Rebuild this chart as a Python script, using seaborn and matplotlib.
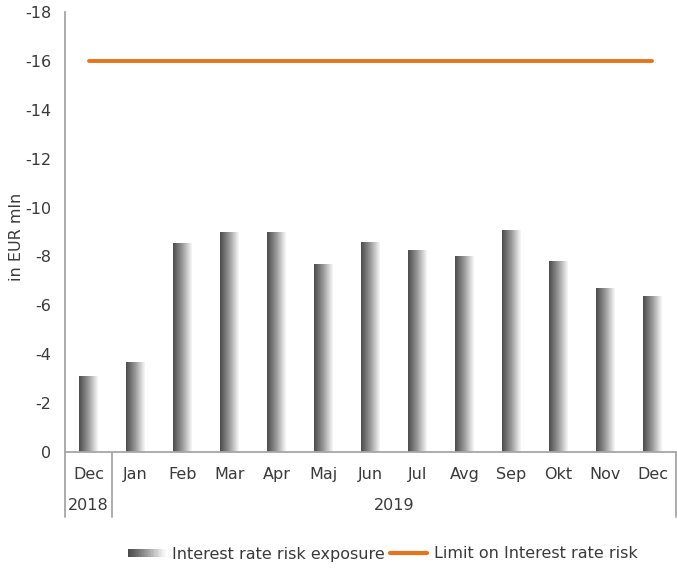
import numpy as np
import pandas as pd
import matplotlib
matplotlib.use('Agg')
import matplotlib.pyplot as plt
import matplotlib.transforms as mtransforms
import seaborn as sns
from matplotlib.legend_handler import HandlerBase
from matplotlib.patches import Rectangle, Patch
from matplotlib.lines import Line2D
from matplotlib.colors import LinearSegmentedColormap

# ---- data ----
months = ['Dec', 'Jan', 'Feb', 'Mar', 'Apr', 'Maj', 'Jun', 'Jul', 'Avg', 'Sep', 'Okt', 'Nov', 'Dec']
years = ['2018', '2019']
year_spans = [(0, 0), (1, 12)]
exposure = [-3.1, -3.7, -8.55, -9.0, -9.0, -7.7, -8.6, -8.27, -8.0, -9.08, -7.8, -6.7, -6.4]
limit = [-16] * 13
y_ticks = list(range(-18, 1, 2))

sns.set_theme(style='white')
plt.rcParams['font.family'] = ['DejaVu Sans']

GRAY_TXT = '#3a3a3a'
ORANGE = '#E8731A'
cmap = LinearSegmentedColormap.from_list('g', ['#4c4c4c', '#9a9a9a', '#f8f8f8'])

keys = [f'{m}-{i}' for i, m in enumerate(months)]
df = pd.DataFrame({'key': keys, 'val': exposure})

fig = plt.figure(figsize=(6.77, 5.69), dpi=100)
ax = fig.add_axes([65 / 677, 1 - 452 / 569, (676 - 65) / 677, (452 - 12) / 569])

sns.barplot(data=df, x='key', y='val', order=keys, width=0.4, color='#808080', ax=ax, zorder=2)
sns.lineplot(x=np.arange(len(months)), y=limit, color=ORANGE, lw=2.8, ax=ax, zorder=3,
             solid_capstyle='round')

grad = np.linspace(0, 1, 64).reshape(1, -1)
for p in list(ax.patches):
    x0, w, y0, h = p.get_x(), p.get_width(), p.get_y(), p.get_height()
    p.set_facecolor('none')
    p.set_edgecolor('none')
    im = ax.imshow(grad, extent=[x0, x0 + w, y0, y0 + h], aspect='auto', cmap=cmap,
                   interpolation='bicubic', zorder=2)
    im.set_clip_path(p)

ax.set_xlim(-0.5, len(months) - 0.5)
ax.set_ylim(0, -18)
ax.set_yticks(y_ticks)
ax.set_yticklabels([str(t) for t in y_ticks])
ax.set_xticks(range(len(months)))
ax.set_xticklabels(months)
ax.tick_params(axis='both', length=0, labelsize=11.5, colors=GRAY_TXT)
ax.tick_params(axis='y', pad=10)
ax.tick_params(axis='x', pad=11)
ax.set_xlabel('')
ax.set_ylabel('in EUR mln', fontsize=11.5, color=GRAY_TXT, labelpad=4)
ax.yaxis.set_label_coords(-41 / 611, 0.49)

for s in ['top', 'right']:
    ax.spines[s].set_visible(False)
for s in ['left', 'bottom']:
    ax.spines[s].set_color('#a6a6a6')
    ax.spines[s].set_linewidth(1.3)

# group separators and year labels
trans = mtransforms.blended_transform_factory(ax.transData, ax.transAxes)
yb = -(517 - 452) / 440
for b in [-0.5, 0.5, len(months) - 0.5]:
    ax.plot([b, b], [0, yb], transform=trans, color='#a6a6a6', lw=1.3, clip_on=False)
for yr, (a, b) in zip(years, year_spans):
    ax.text((a + b) / 2, -(506 - 452) / 440, yr, transform=trans, ha='center', va='center',
            fontsize=11.5, color=GRAY_TXT)


class GradHandler(HandlerBase):
    def create_artists(self, legend, orig_handle, xdescent, ydescent, width, height, fontsize, trans):
        n = 24
        arts = []
        hh = height * 0.75
        yy = -ydescent + (height - hh) / 2
        for i in range(n):
            r = Rectangle((-xdescent + i * width / n, yy), width / n + 0.3, hh,
                          facecolor=cmap(i / (n - 1)), edgecolor='none', transform=trans)
            arts.append(r)
        return arts


h1 = Patch(facecolor='#808080')
h2 = Line2D([], [], color=ORANGE, lw=3)
fig.legend([h1, h2], ['Interest rate risk exposure', 'Limit on Interest rate risk'],
           handler_map={Patch: GradHandler()}, loc='center', ncol=2,
           bbox_to_anchor=(383 / 677, 1 - 554 / 569), frameon=False, fontsize=11.5,
           handlelength=2.3, handletextpad=0.45, columnspacing=0.3, labelcolor=GRAY_TXT)

fig.savefig('out.png', dpi=100)
